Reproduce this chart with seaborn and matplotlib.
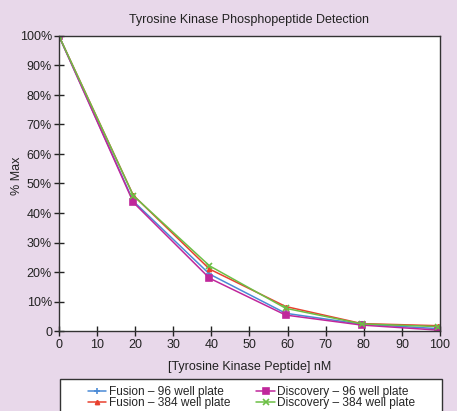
import numpy as np
import pandas as pd
import seaborn as sns
import matplotlib.pyplot as plt
from matplotlib.patches import Rectangle
from matplotlib.ticker import FuncFormatter

# data
conc = [0, 19.5, 39.5, 59.5, 79.5, 99.5]
fusion_96 = [100, 44.0, 19.3, 6.0, 2.3, 0.8]
fusion_384 = [100, 46.0, 21.0, 8.3, 2.5, 1.8]
discovery_96 = [100, 43.6, 17.9, 5.4, 2.0, 0.3]
discovery_384 = [100, 45.9, 22.1, 7.7, 2.4, 1.5]

labels = ["Fusion \u2013 96 well plate", "Fusion \u2013 384 well plate",
          "Discovery \u2013 96 well plate", "Discovery \u2013 384 well plate"]
series = [fusion_96, fusion_384, discovery_96, discovery_384]
colors = ["#4a8ad6", "#e8412f", "#c0279b", "#6cbf45"]
markers = ["+", "^", "s", "x"]
msizes = [4, 3, 5, 4]

rows = []
for lab, vals in zip(labels, series):
    for c, v in zip(conc, vals):
        rows.append({"conc": c, "pct": v, "series": lab})
df = pd.DataFrame(rows)

sns.set_style("white")
plt.rcParams['font.family'] = ['Liberation Sans', 'DejaVu Sans']

bg = "#e8d8ea"
W, H = 457, 411
fig = plt.figure(figsize=(4.57, 4.11), dpi=100, facecolor=bg)
ax = fig.add_axes([59 / W, 1 - 331 / H, 381 / W, 295 / H])

for lab, col, mk, ms in zip(labels, colors, markers, msizes):
    sub = df[df["series"] == lab]
    sns.lineplot(data=sub, x="conc", y="pct", ax=ax, color=col, marker=mk,
                 markersize=ms, markeredgecolor=col, markeredgewidth=1.2,
                 linewidth=1.1, label=lab)

ax.set_xlim(0, 100)
ax.set_ylim(0, 100)
ax.set_xticks(np.arange(0, 101, 10))
ax.set_yticks(np.arange(0, 101, 10))
ax.yaxis.set_major_formatter(FuncFormatter(lambda v, p: "0" if v == 0 else f"{int(v)}%"))
ax.tick_params(axis="both", direction="inout", length=7, width=1, colors="#222222",
               labelsize=9, labelcolor="#222222", left=True, bottom=True, pad=2)
ax.tick_params(axis="y", pad=1.5)
for s in ax.spines.values():
    s.set_color("#333333")
    s.set_linewidth(1)

ax.set_xlabel("[Tyrosine Kinase Peptide] nM", fontsize=9, color="#222222")
ax.xaxis.set_label_coords(0.5, -0.1)
ax.set_ylabel("% Max", fontsize=9, color="#222222")
ax.yaxis.set_label_coords(-0.095, 0.525)
ax.set_title("Tyrosine Kinase Phosphopeptide Detection", fontsize=9, color="#222222", pad=9)

# legend box below the plot
fig.patches.append(Rectangle((60 / W, -0.05), 382 / W, 1 - 379 / H + 0.05,
                             transform=fig.transFigure, facecolor="white",
                             edgecolor="#333333", linewidth=1, zorder=0))
handles, labs = ax.get_legend_handles_labels()
ax.get_legend().remove()
fig.legend(handles, labs, loc="upper center", bbox_to_anchor=(251.5 / W, 1 - 386 / H),
           ncol=2, fontsize=8.6, frameon=False, handlelength=1.55, handletextpad=0.2,
           borderpad=0, labelspacing=-0.08, columnspacing=2.2, borderaxespad=0)

fig.savefig("out.png", dpi=100, facecolor=bg)
